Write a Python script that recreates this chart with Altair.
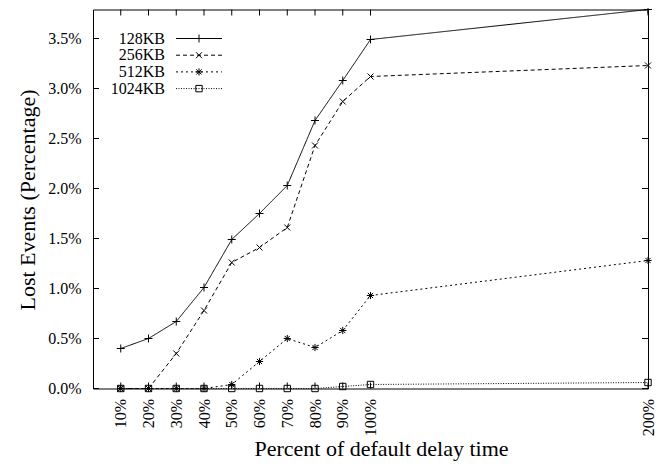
import altair as alt
import pandas as pd

# ---- data ----
x_pct = [10, 20, 30, 40, 50, 60, 70, 80, 90, 100, 200]
s128 = [0.40, 0.50, 0.67, 1.01, 1.49, 1.75, 2.03, 2.68, 3.08, 3.49, 3.79]
s256 = [0.00, 0.00, 0.35, 0.78, 1.26, 1.41, 1.61, 2.43, 2.87, 3.12, 3.23]
s512 = [0.00, 0.00, 0.00, 0.00, 0.04, 0.27, 0.50, 0.41, 0.58, 0.93, 1.28]
s1024 = [0.00, 0.00, 0.00, 0.00, 0.00, 0.00, 0.00, 0.00, 0.02, 0.04, 0.06]
series_names = ["128KB", "256KB", "512KB", "1024KB"]
y_ticks = [0.0, 0.5, 1.0, 1.5, 2.0, 2.5, 3.0, 3.5]
x_ticks = [10, 20, 30, 40, 50, 60, 70, 80, 90, 100, 200]

# ---- styles ----
FONT = "Liberation Serif"
W, H = 555, 379
TICK = 6
dashes = [[1, 0], [4, 3], [2, 3], [1, 1.5]]
shapes = [
    "M-1,0L1,0M0,-1L0,1",
    "M-0.75,-0.75L0.75,0.75M-0.75,0.75L0.75,-0.75",
    "M-0.9,0L0.9,0M0,-0.9L0,0.9M-0.65,-0.65L0.65,0.65M-0.65,0.65L0.65,-0.65",
    "M-0.8,-0.8L0.8,-0.8L0.8,0.8L-0.8,0.8Z",
]

rows = []
for name, vals in zip(series_names, [s128, s256, s512, s1024]):
    for x, v in zip(x_pct, vals):
        rows.append({"pct": x, "lost": v, "series": name})
df = pd.DataFrame(rows)

xscale = alt.Scale(domain=[0, 200], nice=False, zero=False)
yscale = alt.Scale(domain=[0, 3.79], nice=False, zero=False)

x_axis = alt.Axis(
    values=x_ticks, labelExpr="datum.value + '%'", labelAngle=270,
    ticks=False, domain=False, grid=False, labelPadding=10,
    labelFont=FONT, labelFontSize=16, labelColor="black",
    title="Percent of default delay time", titleFont=FONT,
    titleFontSize=22, titleFontWeight="normal", titleColor="black",
    titleX=288, titleY=67, titleBaseline="alphabetic", titleAlign="center",
)
y_axis = alt.Axis(
    values=y_ticks, labelExpr="format(datum.value, '.1f') + '%'",
    ticks=False, domain=False, grid=False, labelPadding=12,
    labelFont=FONT, labelFontSize=16, labelColor="black",
    title="Lost Events (Percentage)", titleFont=FONT,
    titleFontSize=22, titleFontWeight="normal", titleColor="black",
    titleX=-59, titleY=190, titleBaseline="alphabetic", titleAlign="center",
    titleAngle=270,
)
x_enc = alt.X("pct:Q", scale=xscale, axis=x_axis)
y_enc = alt.Y("lost:Q", scale=yscale, axis=y_axis)

base = alt.Chart(df)
lines = base.mark_line(color="black", strokeWidth=1).encode(
    x=x_enc, y=y_enc,
    strokeDash=alt.StrokeDash("series:N", scale=alt.Scale(domain=series_names, range=dashes), legend=None),
)
points = base.mark_point(filled=False, color="black", strokeWidth=1, opacity=1, size=64).encode(
    x=x_enc, y=y_enc,
    shape=alt.Shape("series:N", scale=alt.Scale(domain=series_names, range=shapes), legend=None),
)

# inward (gnuplot style) ticks, mirrored on all sides
ydf = pd.DataFrame({"lost": y_ticks})
xdf = pd.DataFrame({"pct": x_ticks})
yt_left = alt.Chart(ydf).mark_rule(color="black", strokeWidth=1).encode(
    y=y_enc, x=alt.value(0), x2=alt.value(TICK))
yt_right = alt.Chart(ydf).mark_rule(color="black", strokeWidth=1).encode(
    y=y_enc, x=alt.value(W - TICK), x2=alt.value(W))
xt_bot = alt.Chart(xdf).mark_rule(color="black", strokeWidth=1).encode(
    x=x_enc, y=alt.value(H), y2=alt.value(H - TICK))
xt_top = alt.Chart(xdf).mark_rule(color="black", strokeWidth=1).encode(
    x=x_enc, y=alt.value(0), y2=alt.value(TICK))

# gnuplot-style key: label, then line sample with marker
key_layers = []
LY0, LDY = 29, 16.7
for i, name in enumerate(series_names):
    kd = pd.DataFrame({"series": [name]})
    ly = LY0 + i * LDY
    key_layers.append(alt.Chart(kd).mark_text(
        align="right", baseline="middle", font=FONT, fontSize=16, color="black"
    ).encode(text="series:N", x=alt.value(72), y=alt.value(ly)))
    key_layers.append(alt.Chart(kd).mark_rule(color="black", strokeWidth=1).encode(
        x=alt.value(83), x2=alt.value(129), y=alt.value(ly), strokeDash=alt.value(dashes[i])))
    key_layers.append(alt.Chart(kd).mark_point(
        filled=False, color="black", strokeWidth=1, opacity=1, size=64
    ).encode(x=alt.value(106), y=alt.value(ly), shape=alt.value(shapes[i])))

chart = alt.layer(lines, points, yt_left, yt_right, xt_bot, xt_top, *key_layers).properties(
    width=W, height=H,
    background="white",
    autosize=alt.AutoSizeParams(type="none"),
    padding={"left": 85, "top": 1.5, "right": 10, "bottom": 75.5},
).configure_view(stroke="black", strokeWidth=1)

chart.save("out.html", embed_options={"renderer": "svg", "actions": False})
